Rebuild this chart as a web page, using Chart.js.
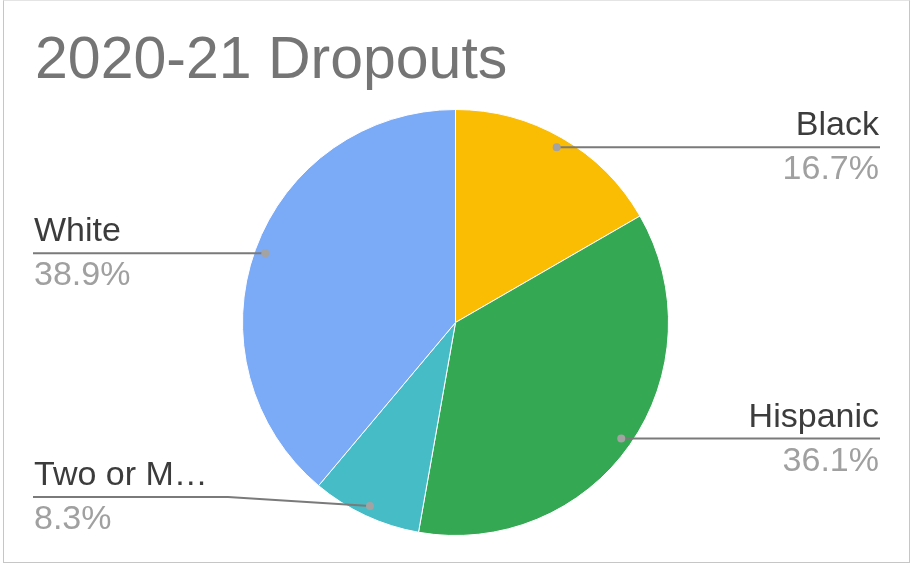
<!DOCTYPE html>
<html>
<head>
<meta charset="utf-8">
<script src="https://cdn.jsdelivr.net/npm/chart.js@4/dist/chart.umd.min.js"></script>
<style>
    html, body { margin: 0; padding: 0; background: #ffffff; }
    #wrap { position: relative; width: 912px; height: 565px; }
    #frame { position: absolute; left: 3px; top: 0; width: 905px; height: 561px; border: 1px solid #c6c6c6; border-top-color: #e4e4e4; pointer-events: none; }
    canvas { position: absolute; left: 0; top: 0; }
</style>
</head>
<body>
<div id="wrap">
    <canvas id="dropoutPie" width="912" height="565"></canvas>
    <div id="frame"></div>
</div>
<script>
// チャートのデータ
const chartTitle = '2020-21 Dropouts';
const categories = ['Black', 'Hispanic', 'Two or M…', 'White'];
const dropoutCounts = [6, 13, 3, 14];
const sliceColors = ['#FBBC04', '#34A853', '#46BDC6', '#7BAAF7'];

// ラベルの配置（左右・引き出し線の位置）
const labelLayout = [
    { side: 'right' },
    { side: 'right' },
    { side: 'left', lineY: 497, elbowX: 228 },
    { side: 'left' },
];

const labelFont = "34px 'Liberation Sans', Arial, sans-serif";

const titlePlugin = {
    id: 'sheetTitle',
    afterDraw: (chart) => {
        const ctx = chart.ctx;
        ctx.save();
        ctx.fillStyle = '#757575';
        ctx.font = "59px 'Liberation Sans', Arial, sans-serif";
        ctx.textAlign = 'left';
        ctx.textBaseline = 'alphabetic';
        ctx.fillText(chartTitle, 35, 78);
        ctx.restore();
    },
};

// 引き出し線とラベル
const calloutPlugin = {
    id: 'callouts',
    afterDatasetsDraw: (chart) => {
        const ctx = chart.ctx;
        const meta = chart.getDatasetMeta(0);
        const values = chart.data.datasets[0].data;
        const total = values.reduce((a, b) => a + b, 0);

        meta.data.forEach((arc, i) => {
            const spec = labelLayout[i];
            const mid = (arc.startAngle + arc.endAngle) / 2;
            const r = arc.outerRadius * 0.95;
            const dotX = arc.x + Math.cos(mid) * r;
            const dotY = arc.y + Math.sin(mid) * r;
            const lineY = spec.lineY ?? dotY;
            const endX = spec.side === 'right' ? 880 : 33;

            ctx.save();
            ctx.strokeStyle = '#7a7a7a';
            ctx.lineWidth = 2;
            ctx.beginPath();
            ctx.moveTo(dotX, dotY);
            if (spec.elbowX) ctx.lineTo(spec.elbowX, lineY);
            ctx.lineTo(endX, lineY);
            ctx.stroke();

            ctx.fillStyle = '#a3a3a3';
            ctx.beginPath();
            ctx.arc(dotX, dotY, 4, 0, Math.PI * 2);
            ctx.fill();

            const pct = ((values[i] / total) * 100).toFixed(1) + '%';
            const textX = spec.side === 'right' ? 879 : 34;
            ctx.textAlign = spec.side === 'right' ? 'right' : 'left';
            ctx.textBaseline = 'alphabetic';
            ctx.font = labelFont;
            ctx.fillStyle = '#3c3c3c';
            ctx.fillText(chart.data.labels[i], textX, lineY - 12);
            ctx.fillStyle = '#a0a0a0';
            ctx.fillText(pct, textX, lineY + 32);
            ctx.restore();
        });
    },
};

const ctx = document.querySelector('#dropoutPie').getContext('2d');
new Chart(ctx, {
    type: 'pie',
    data: {
        labels: categories,
        datasets: [
            {
                label: chartTitle,
                data: dropoutCounts,
                backgroundColor: sliceColors,
                borderColor: '#ffffff',
                borderWidth: 1,
            },
        ],
    },
    options: {
        responsive: false,
        animation: false,
        layout: { padding: { left: 242, right: 243, top: 109, bottom: 29 } },
        plugins: {
            legend: { display: false },
            tooltip: { enabled: false },
            title: { display: false },
        },
    },
    plugins: [titlePlugin, calloutPlugin],
});
</script>
</body>
</html>
